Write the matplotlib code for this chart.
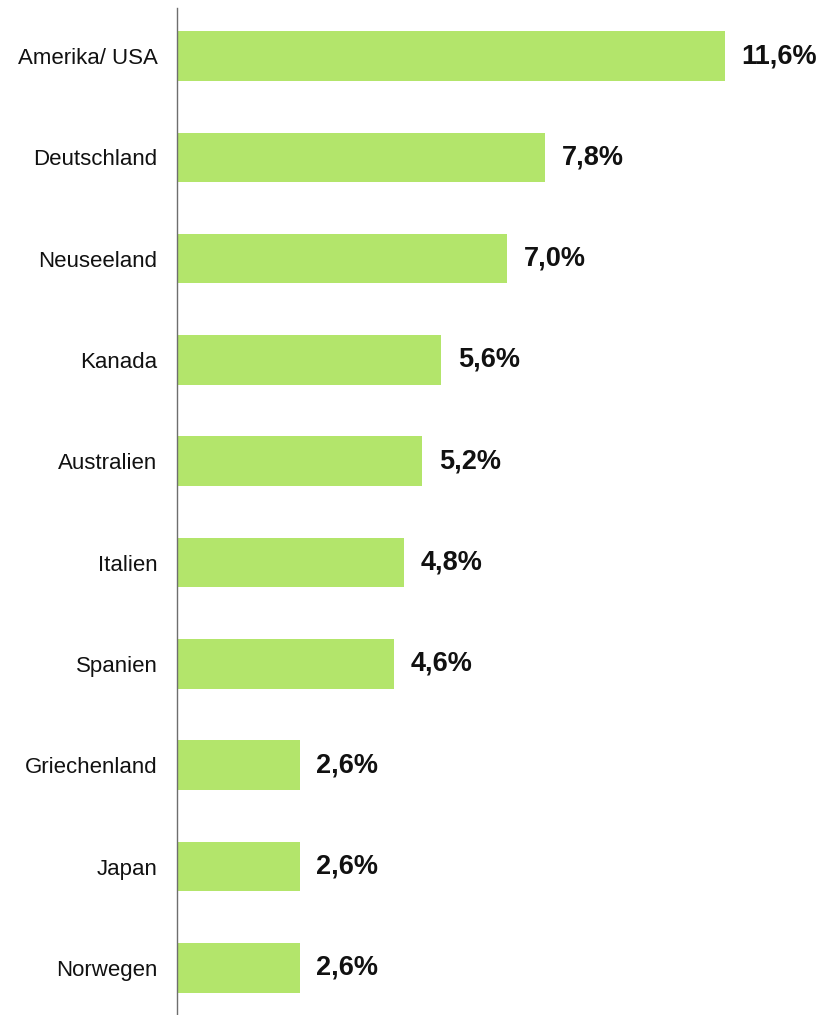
import matplotlib.pyplot as plt

plt.rcParams['font.family'] = ['Liberation Sans', 'DejaVu Sans']

countries = ['Amerika/ USA', 'Deutschland', 'Neuseeland', 'Kanada', 'Australien',
             'Italien', 'Spanien', 'Griechenland', 'Japan', 'Norwegen']
shares = [11.6, 7.8, 7.0, 5.6, 5.2, 4.8, 4.6, 2.6, 2.6, 2.6]
value_labels = ['11,6%', '7,8%', '7,0%', '5,6%', '5,2%', '4,8%', '4,6%', '2,6%', '2,6%', '2,6%']

fig = plt.figure(figsize=(8.22, 10.15), dpi=100)
ax = fig.add_axes([177 / 822, 0, 645 / 822, 1 - 8 / 1015])

pos = list(range(len(countries)))
ax.barh(pos, shares, height=0.49, color='#b3e56b')

for y, v, lab in zip(pos, shares, value_labels):
    ax.annotate(lab, (v, y), xytext=(12, 0), textcoords='offset points',
                va='center', ha='left', fontsize=19.5, fontweight='bold', color='#111111')

ax.set_xlim(0, 645 / 47.2)
ax.set_ylim(9.465, -0.474)
ax.set_yticks(pos)
ax.set_yticklabels(countries, fontsize=16, color='#111111')
ax.tick_params(axis='y', length=0, pad=14)
ax.set_xticks([])
for s in ['top', 'right', 'bottom']:
    ax.spines[s].set_visible(False)
ax.spines['left'].set_color('#6e6e6e')
ax.spines['left'].set_linewidth(1.0)

fig.savefig('out.png', dpi=100)
